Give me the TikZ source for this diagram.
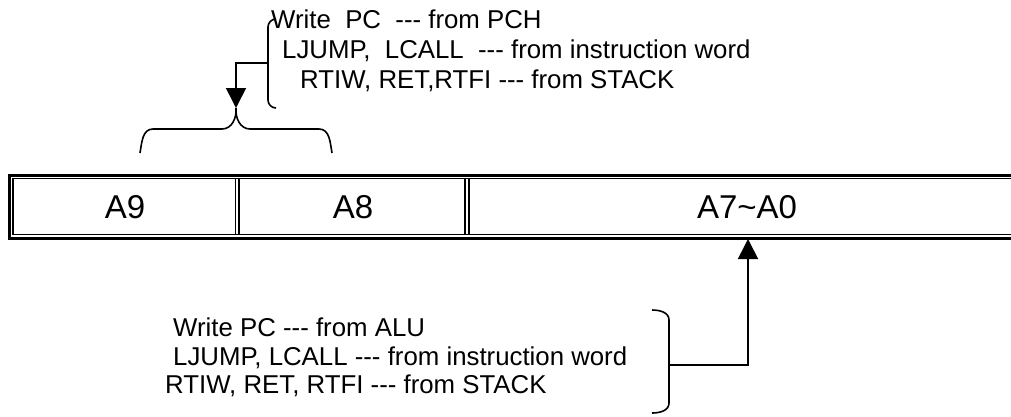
\documentclass[tikz,border=0pt]{standalone}
\usepackage{fontspec}
\setmainfont{Liberation Sans}
\usetikzlibrary{arrows.meta}
\begin{document}
\begin{tikzpicture}[x=1pt,y=-1pt,
  txt/.style={anchor=base west,inner sep=0pt,font=\fontsize{25.8}{30}\selectfont},
  cell/.style={anchor=base,inner sep=0pt,font=\fontsize{33}{38}\selectfont},
  conn/.style={line width=1.5pt},
  arr/.style={line width=1.6pt,-{Triangle[length=20pt,width=20pt]}},
  brace/.style={line width=1.6pt}]
\useasboundingbox (0,0) rectangle (1011,416);
% register frame
\draw[line width=3pt] (1040,175) -- (9.5,175) -- (9.5,238) -- (1040,238);
\draw[line width=1.5pt] (1040,178.5) -- (13,178.5) -- (13,234.5) -- (1040,234.5);
\draw[line width=1.5pt] (235.5,178.5) -- (235.5,234.5);
\draw[line width=2pt] (239,178.5) -- (239,234.5);
\draw[line width=1.5pt] (465,178.5) -- (465,234.5);
\draw[line width=2pt] (468.5,178.5) -- (468.5,234.5);
\node[cell] (a9) at (125,218) {A9};
\node[cell] (a8) at (353,218) {A8};
\node[cell] (a70) at (747,218) {A7\char`~A0};
% top text
\node[txt] (t1) at (271,28) {Write\ \ PC\ \ -{}-{}- from PCH};
\node[txt] (t2) at (282,58) {LJUMP,\ \ LCALL\ \ -{}-{}- from instruction word};
\node[txt] (t3) at (300,88) {RTIW, RET,RTFI -{}-{}- from STACK};
% top brace
\draw[brace] (276,19) to[out=180,in=90] (268,27) -- (268,100) to[out=-90,in=180] (276,108);
\coordinate (tb) at (268,63);
\coordinate (cusp) at (236,108);
\draw[arr] (tb) -| (cusp);
% horizontal brace over A9/A8
\draw[brace] (140,153) to[out=80,in=180] (153,129) -- (222,129) to[out=0,in=-85] (cusp)
  to[out=-95,in=180] (250,129) -- (319,129) to[out=0,in=100] (332,153);
% bottom text
\node[txt] (b1) at (173,336) {Write PC -{}-{}- from ALU};
\node[txt] (b2) at (173,365) {LJUMP, LCALL -{}-{}- from instruction word};
\node[txt] (b3) at (165,393) {RTIW, RET, RTFI -{}-{}- from STACK};
% bottom brace
\draw[brace] (652,310) to[out=0,in=90] (669,320) -- (669,403) to[out=-90,in=0] (652,413);
\coordinate (bb) at (669,365);
\coordinate (fb) at (748,239);
\draw[arr] (bb) -| (fb);
\end{tikzpicture}
\end{document}
